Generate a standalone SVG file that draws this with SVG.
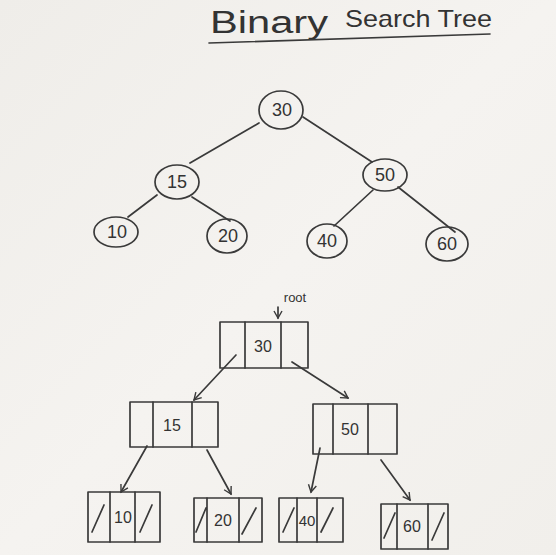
<svg xmlns="http://www.w3.org/2000/svg" width="556" height="555" viewBox="0 0 556 555">
<defs>
<linearGradient id="bg" x1="0" y1="0" x2="1" y2="1">
<stop offset="0" stop-color="#efede9"/>
<stop offset="0.5" stop-color="#f5f3f0"/>
<stop offset="1" stop-color="#f1efeb"/>
</linearGradient>
<marker id="arr" markerWidth="10" markerHeight="10" refX="8" refY="5" orient="auto" markerUnits="userSpaceOnUse">
<path d="M1,1 L8,5 L1,9" fill="none" stroke="#3a3a3a" stroke-width="1.4"/>
</marker>
<style>
.ink{fill:none;stroke:#3a3a3a;stroke-width:1.7;stroke-linecap:round;stroke-linejoin:round}
.t{font-family:"Liberation Sans","DejaVu Sans",sans-serif;fill:#333;text-anchor:middle}
.s{text-anchor:start}
.n{font-size:18px}
.b{font-size:16px}
</style>
</defs>
<rect width="556" height="555" fill="url(#bg)"/>

<g id="title">
<text class="t s" x="210" y="33" font-size="31" textLength="118" lengthAdjust="spacingAndGlyphs">Binary</text>
<text class="t s" x="345" y="27" font-size="24" textLength="147" lengthAdjust="spacingAndGlyphs">Search Tree</text>
<path class="ink" d="M209,43 L490,34" stroke-width="1.3"/>
</g>

<g id="connectors">
<path class="ink" d="M259,123 L190,163"/>
<path class="ink" d="M303,117 L372,162"/>
<path class="ink" d="M157,195 L128,217"/>
<path class="ink" d="M192,197 L230,221"/>
<path class="ink" d="M373,190 L334,226"/>
<path class="ink" d="M398,187 L455,232"/>
<path class="ink" d="M278,307 L278,318" marker-end="url(#arr)"/>
<path class="ink" d="M236,355 L194,400" marker-end="url(#arr)"/>
<path class="ink" d="M292,362 L348,398" marker-end="url(#arr)"/>
<path class="ink" d="M147,446 L121,492" marker-end="url(#arr)"/>
<path class="ink" d="M207,450 L231,494" marker-end="url(#arr)"/>
<path class="ink" d="M320,448 L311,492" marker-end="url(#arr)"/>
<path class="ink" d="M381,460 L410,500" marker-end="url(#arr)"/>
</g>

<g id="n30"><ellipse class="ink" cx="281" cy="110" rx="22" ry="19"/><text class="t n" x="282" y="116">30</text></g>
<g id="n15"><ellipse class="ink" cx="177" cy="182" rx="22" ry="17"/><text class="t n" x="177" y="188">15</text></g>
<g id="n50"><ellipse class="ink" cx="385" cy="175" rx="22" ry="16"/><text class="t n" x="385" y="181">50</text></g>
<g id="n10"><ellipse class="ink" cx="116" cy="232" rx="22" ry="15"/><text class="t n" x="117" y="238">10</text></g>
<g id="n20"><ellipse class="ink" cx="227" cy="236" rx="20" ry="17"/><text class="t n" x="228" y="242">20</text></g>
<g id="n40"><ellipse class="ink" cx="327" cy="241" rx="20" ry="17"/><text class="t n" x="327" y="247">40</text></g>
<g id="n60"><ellipse class="ink" cx="447" cy="244" rx="21" ry="17"/><text class="t n" x="447" y="250">60</text></g>

<g id="root-label"><text class="t" x="295" y="302" font-size="13">root</text></g>

<g id="b30">
<rect class="ink" x="220" y="322" width="88" height="46"/>
<path class="ink" d="M245,322 V368 M281,322 V368"/>
<text class="t b" x="263" y="352">30</text>
</g>
<g id="b15">
<rect class="ink" x="130" y="402" width="88" height="45"/>
<path class="ink" d="M153,402 V447 M192,402 V447"/>
<text class="t b" x="172" y="431">15</text>
</g>
<g id="b50">
<rect class="ink" x="313" y="404" width="84" height="50"/>
<path class="ink" d="M333,404 V454 M368,404 V454"/>
<text class="t b" x="350" y="435">50</text>
</g>
<g id="b10">
<rect class="ink" x="88" y="492" width="72" height="50"/>
<path class="ink" d="M110,492 V542 M135,492 V542 M92,532 L104,505 M140,532 L152,505"/>
<text class="t b" x="123" y="523">10</text>
</g>
<g id="b20">
<rect class="ink" x="194" y="498" width="68" height="44"/>
<path class="ink" d="M207,498 V542 M239,498 V542 M196,532 L206,508 M242,534 L256,508"/>
<text class="t b" x="223" y="526">20</text>
</g>
<g id="b40">
<rect class="ink" x="279" y="498" width="64" height="44"/>
<path class="ink" d="M297,498 V542 M317,498 V542 M283,532 L294,508 M321,532 L333,508"/>
<text class="t" x="307" y="526" font-size="15">40</text>
</g>
<g id="b60">
<rect class="ink" x="381" y="504" width="67" height="45"/>
<path class="ink" d="M397,504 V549 M428,504 V549 M384,538 L395,513 M432,540 L444,513"/>
<text class="t b" x="412" y="532">60</text>
</g>
</svg>
